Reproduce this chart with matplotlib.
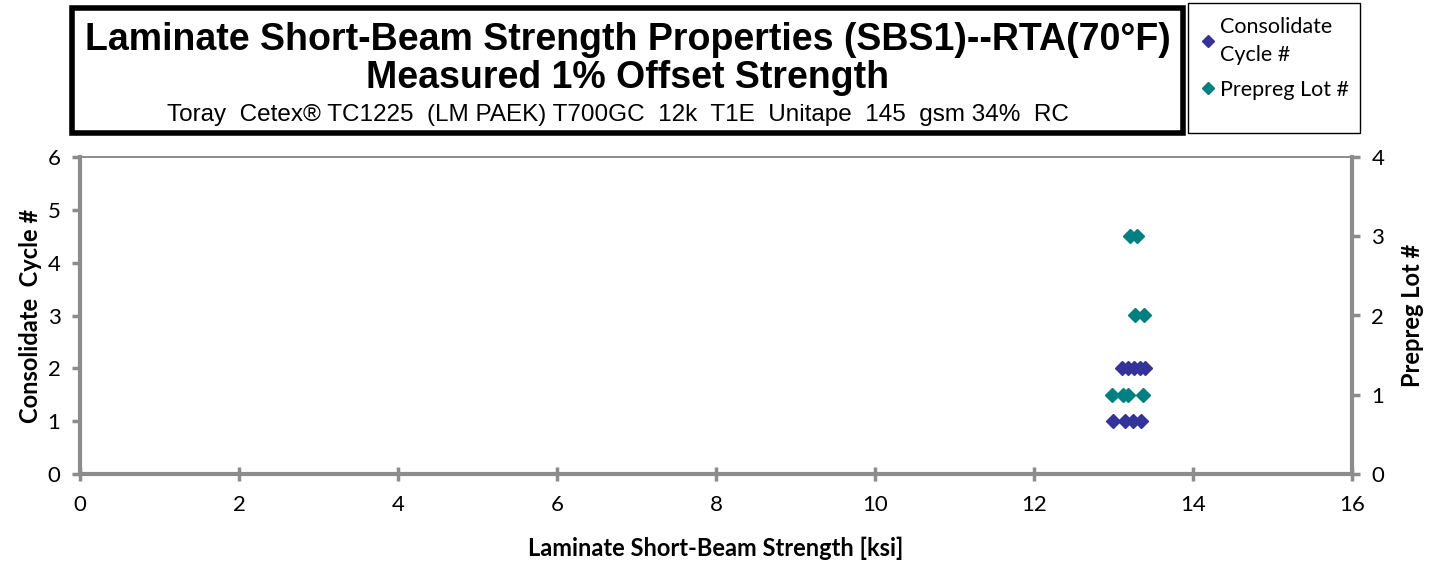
import matplotlib.pyplot as plt
from matplotlib.patches import Rectangle
from matplotlib.lines import Line2D

# Consolidate cycle # (left axis)
cycle_x = [12.99, 13.15, 13.25, 13.35, 13.11, 13.18, 13.26, 13.33, 13.39]
cycle_y = [1, 1, 1, 1, 2, 2, 2, 2, 2]
# Prepreg lot # (right axis)
lot_x = [12.98, 13.12, 13.18, 13.37, 13.27, 13.38, 13.21, 13.30]
lot_y = [1, 1, 1, 1, 2, 2, 3, 3]

title1 = "Laminate Short-Beam Strength Properties (SBS1)--RTA(70°F)"
title2 = "Measured 1% Offset Strength"
subtitle = "Toray  Cetex® TC1225  (LM PAEK) T700GC  12k  T1E  Unitape  145  gsm 34%  RC"

purple = '#333399'
teal = '#008080'
gray = '#8c8c8c'
lab_font = ['Lato', 'DejaVu Sans']
title_font = ['Liberation Sans', 'DejaVu Sans']

fig = plt.figure(figsize=(14.29, 5.61), dpi=100)
ax = fig.add_axes([80/1429, 87/561, 1272/1429, 317/561])
ax2 = ax.twinx()

ax.plot(cycle_x, cycle_y, 'D', color=purple, markersize=7, zorder=3)
ax2.plot(lot_x, lot_y, 'D', color=teal, markersize=7, zorder=3)

ax.set_xlim(0, 16)
ax.set_ylim(0, 6)
ax2.set_ylim(0, 4)
ax.set_xticks(range(0, 17, 2))
ax.set_yticks(range(0, 7))
ax2.set_yticks(range(0, 5))

for a in (ax, ax2):
    for s in a.spines.values():
        s.set_color(gray)
        s.set_linewidth(1.2)
    a.tick_params(colors=gray, labelcolor='black', width=2.5, length=6,
                  labelsize=16)
    for lbl in a.get_xticklabels() + a.get_yticklabels():
        lbl.set_family(lab_font)
ax.spines['left'].set_linewidth(3)
ax.spines['bottom'].set_linewidth(3)
ax2.spines['right'].set_linewidth(3)
ax.tick_params(axis='x', direction='inout', length=10, pad=10)
ax.tick_params(axis='y', direction='out', pad=8)
ax2.tick_params(axis='y', direction='out', pad=8)

ax.set_xlabel("Laminate Short-Beam Strength [ksi]", fontsize=17,
              fontweight='bold', family=lab_font, labelpad=16)
ax.set_ylabel("Consolidate  Cycle #", fontsize=17, fontweight='bold',
              family=lab_font, labelpad=4)
ax2.set_ylabel("Prepreg Lot #", fontsize=17, fontweight='bold',
               family=lab_font, labelpad=12)

# title box
fig.patches.append(Rectangle((72/1429, 1 - 133/561), 1111/1429, 125/561,
                             transform=fig.transFigure, fill=False,
                             edgecolor='black', linewidth=4))
cx = (72 + 1183) / 2 / 1429
fig.text(cx, 1 - 40/561, title1, ha='center', va='center', fontsize=27,
         fontweight='bold', family=title_font)
fig.text(cx, 1 - 78/561, title2, ha='center', va='center', fontsize=27,
         fontweight='bold', family=title_font)
fig.text(cx - 10/1429, 1 - 115/561, subtitle, ha='center', va='center',
         fontsize=17.5, family=title_font)

# legend box
fig.patches.append(Rectangle((1188/1429, 1 - 133/561), 172/1429, 130/561,
                             transform=fig.transFigure, fill=False,
                             edgecolor='black', linewidth=1))
handles = [Line2D([], [], marker='D', color=purple, linestyle='none', markersize=6),
           Line2D([], [], marker='D', color=teal, linestyle='none', markersize=6)]
leg = fig.legend(handles, ["Consolidate\nCycle #", "Prepreg Lot #"],
                 loc='upper left', bbox_to_anchor=(1188/1429, 1 - 8/561),
                 frameon=False, prop={'family': lab_font, 'size': 15.5},
                 handletextpad=0.0, handlelength=1.1, labelspacing=0.7,
                 borderaxespad=0)
for t in leg.get_texts():
    t.set_linespacing(1.5)

fig.savefig('out.png', dpi=100)
